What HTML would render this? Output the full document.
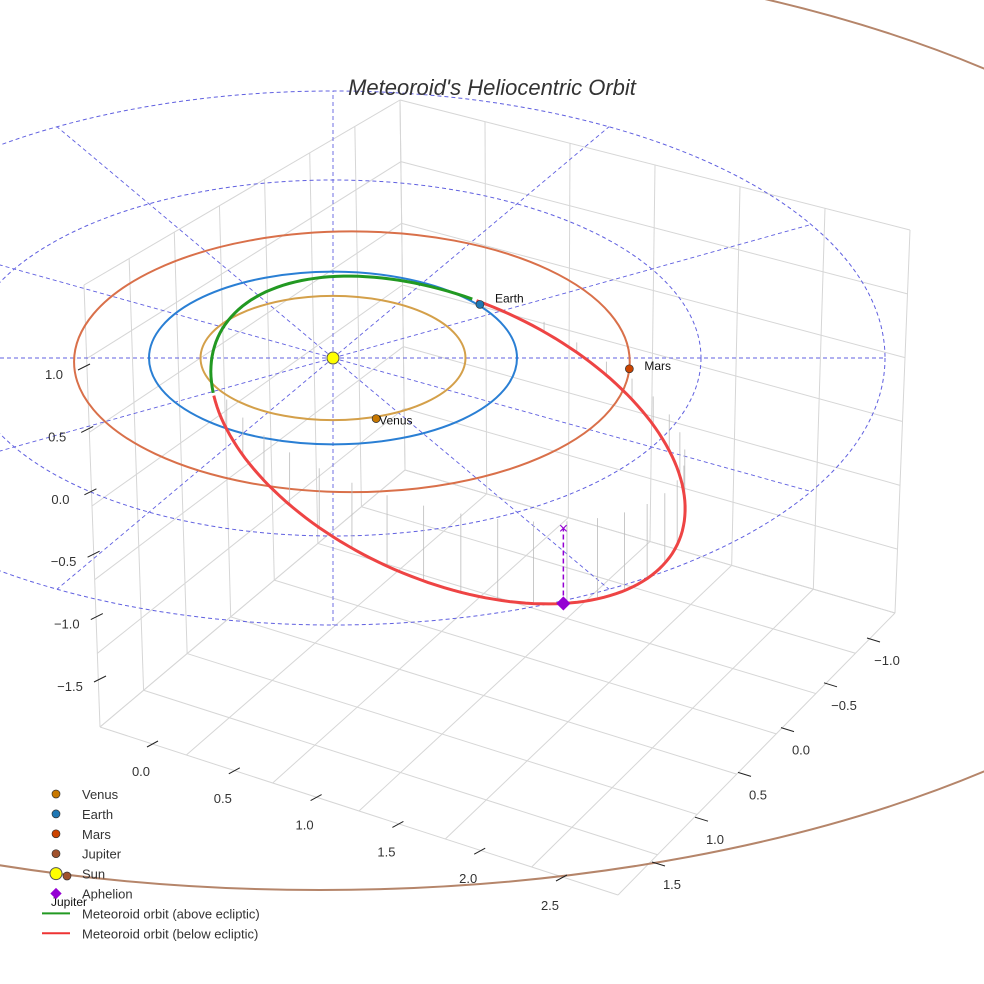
<!DOCTYPE html>
<html><head><meta charset="utf-8"><style>
body{margin:0;background:#fff}
svg{display:block;font-family:"Liberation Sans",sans-serif}
</style></head><body>
<svg id="c" width="984" height="984" viewBox="0 0 984 984">
<rect width="984" height="984" fill="#fff"/>
<g id="grid"></g>
<g id="ref"></g>
<g id="orbits"></g>
<g id="ticks"></g>
<text x="492" y="95" text-anchor="middle" font-size="22" font-style="italic" fill="#333">Meteoroid's Heliocentric Orbit</text>
<g id="legend"></g>
</svg>
<script>
const planetNames=["Venus","Earth","Mars"];
const planetRadius=[0.72,1.0,1.51];
const planetEcc=[0,0,0.068];
const planetAngle=[71,-37,3];
const planetColor=["#d4a04a","#2a7fd4","#d9704a"];
const dotColor=["#c87800","#1f77b4","#cc4400"];
const refRings=[2.0,3.0];
const zTicks=["1.0","0.5","0.0","\u22120.5","\u22121.0","\u22121.5"];
const xTicks=["0.0","0.5","1.0","1.5","2.0","2.5"];
const yTicks=["\u22121.0","\u22120.5","0.0","0.5","1.0","1.5"];
const legendLabels=["Venus","Earth","Mars","Jupiter","Sun","Aphelion","Meteoroid orbit (above ecliptic)","Meteoroid orbit (below ecliptic)"];
const met={a:252,b:140,rot:24,cx:448,cy:440,greenFrom:158,greenTo:263};
const ns="http://www.w3.org/2000/svg";
const CX=333,CY=358,SX=184,SY=89;
function px(r,t){return CX+r*SX*Math.cos(t*Math.PI/180);}
function py(r,t){return CY+r*SY*Math.sin(t*Math.PI/180);}
function mk(p,tag,at){const e=document.createElementNS(ns,tag);for(const k in at)e.setAttribute(k,at[k]);p.appendChild(e);return e;}
const G=id=>document.getElementById(id);
// pane grid
const F1=[100,727],F2=[618,895],F3=[895,613],F4=[405,470],T1=[84,285],T4=[400,100],T3=[910,230];
function lerp(a,b,t){return [a[0]+(b[0]-a[0])*t,a[1]+(b[1]-a[1])*t];}
function gl(a,b){const l=mk(G('grid'),'line',{x1:a[0],y1:a[1],x2:b[0],y2:b[1],stroke:'#d6d6d6','stroke-width':1});
}
for(let i=0;i<=7;i++){const t=i/7;gl(lerp(F1,F4,t),lerp(F2,F3,t));gl(lerp(F1,F4,t),lerp(T1,T4,t));}
for(let i=0;i<=6;i++){const t=i/6;gl(lerp(F1,F2,t),lerp(F4,F3,t));gl(lerp(F4,F3,t),lerp(T4,T3,t));}
for(let i=0;i<=6;i++){const t=i/6;gl(lerp(F1,T1,t),lerp(F4,T4,t));gl(lerp(F4,T4,t),lerp(F3,T3,t));}
// reference rings and radials
refRings.forEach(r=>{const e=mk(G('ref'),'ellipse',{cx:CX,cy:CY,rx:r*SX,ry:r*SY,fill:'none',stroke:'#6060e0','stroke-width':1,'stroke-dasharray':'4 3'});
});
for(let k=0;k<12;k++){const t=k*30,R=refRings[1];const l=mk(G('ref'),'line',{x1:CX,y1:CY,x2:px(R,t),y2:py(R,t),stroke:'#6060e0','stroke-width':0.9,'stroke-dasharray':'4 3'});
}
// jupiter orbit
const jo=mk(G('orbits'),'ellipse',{cx:320,cy:420,rx:1000,ry:470,fill:'none',stroke:'#b5856a','stroke-width':2});

// planet orbits
planetRadius.forEach((r,i)=>{const ox=r*planetEcc[i]*SX;const e=mk(G('orbits'),'ellipse',{cx:CX+ox,cy:CY+ox*0.2,rx:r*SX,ry:r*SY*0.97,fill:'none',stroke:planetColor[i],'stroke-width':2});
});
// meteoroid
function mp(t){const u=met.a*Math.cos(t*Math.PI/180),v=met.b*Math.sin(t*Math.PI/180),r=met.rot*Math.PI/180;
return [met.cx+u*Math.cos(r)-v*Math.sin(r),met.cy+u*Math.sin(r)+v*Math.cos(r)];}
for(let t=-80;t<150;t+=9){const p=mp(t);const l=mk(G('orbits'),'line',{x1:p[0],y1:p[1],x2:p[0],y2:p[1]-Math.max(10,(p[1]-330)*0.3),stroke:'#bbb','stroke-width':0.8});
}
function arc(a,b){let d='';for(let t=a;t<=b;t+=2){const p=mp(t);d+=(d?'L':'M')+p[0].toFixed(1)+' '+p[1].toFixed(1);}return d;}
const red=mk(G('orbits'),'path',{d:arc(met.greenTo-360,met.greenFrom),fill:'none',stroke:'#ee4444','stroke-width':3});

const grn=mk(G('orbits'),'path',{d:arc(met.greenFrom,met.greenTo),fill:'none',stroke:'#229922','stroke-width':3});

// aphelion
const ap=mp(47);
const al=mk(G('orbits'),'line',{x1:ap[0],y1:ap[1],x2:ap[0],y2:ap[1]-75,stroke:'#9400d3','stroke-width':1.5,'stroke-dasharray':'5 3'});

const ax=mk(G('orbits'),'text',{x:ap[0],y:ap[1]-70,'text-anchor':'middle','font-size':16,fill:'#9400d3'});ax.textContent='\u00d7';

const ad=mk(G('orbits'),'rect',{x:ap[0]-5,y:ap[1]-5,width:10,height:10,fill:'#9400d3',transform:`rotate(45 ${ap[0]} ${ap[1]})`});

// planets
planetRadius.forEach((r,i)=>{const ox=r*planetEcc[i]*SX;const x=px(r,planetAngle[i])+ox,y=py(r,planetAngle[i])+ox*0.2;
const c=mk(G('orbits'),'circle',{cx:x,cy:y,r:4,fill:dotColor[i],stroke:'#333','stroke-width':0.7});

const t=mk(G('orbits'),'text',{x:x+(i==0?3:15),y:y-(i==1?2:-1)+(i==0?5:0),'font-size':12,fill:'#111'});t.textContent=planetNames[i];
});
const sun=mk(G('orbits'),'circle',{cx:CX,cy:CY,r:6,fill:'#ffff00',stroke:'#555','stroke-width':1});

const jm=mk(G('orbits'),'circle',{cx:67,cy:876,r:4,fill:'#a0522d',stroke:'#333','stroke-width':0.7});

const jt=mk(G('orbits'),'text',{x:51,y:906,'font-size':12,fill:'#111'});jt.textContent='Jupiter';

// ticks
function tk(lbl,x,y,x1,y1,x2,y2,nm){const l=mk(G('ticks'),'line',{x1:x1,y1:y1,x2:x2,y2:y2,stroke:'#222','stroke-width':1});

const t=mk(G('ticks'),'text',{x:x,y:y,'text-anchor':'middle','font-size':13,fill:'#333'});t.textContent=lbl;
}
zTicks.forEach((l,i)=>{const y=374+i*62.4,x=54+i*3.2;tk(l,x,y+5,x+24,y-4,x+36,y-10,'z');});
xTicks.forEach((l,i)=>{const x=141+i*81.8,y=771+i*26.8;tk(l,x,y+5,x+6,y-24,x+17,y-30,'x');});
yTicks.forEach((l,i)=>{const x=887-i*43,y=660+i*44.8;tk(l,x,y+5,x-20,y-22,x-7,y-18,'y');});
// legend
legendLabels.forEach((l,i)=>{const y=795+i*19.9;let m;
if(i<4){m=mk(G('legend'),'circle',{cx:56,cy:y-1,r:4,fill:['#c87800','#1f77b4','#cc4400','#a0522d'][i],stroke:'#333','stroke-width':0.7});}
else if(i==4){m=mk(G('legend'),'circle',{cx:56,cy:y-1,r:6,fill:'#ffff00',stroke:'#555','stroke-width':1});}
else if(i==5){m=mk(G('legend'),'rect',{x:52,y:y-5,width:8,height:8,fill:'#9400d3',transform:`rotate(45 56 ${y-1})`});}
else{m=mk(G('legend'),'line',{x1:42,y1:y-1,x2:70,y2:y-1,stroke:i==6?'#229922':'#ee3333','stroke-width':2});}

const t=mk(G('legend'),'text',{x:82,y:y+4,'font-size':13,fill:'#333'});t.textContent=l;
});
</script>
</body></html>
